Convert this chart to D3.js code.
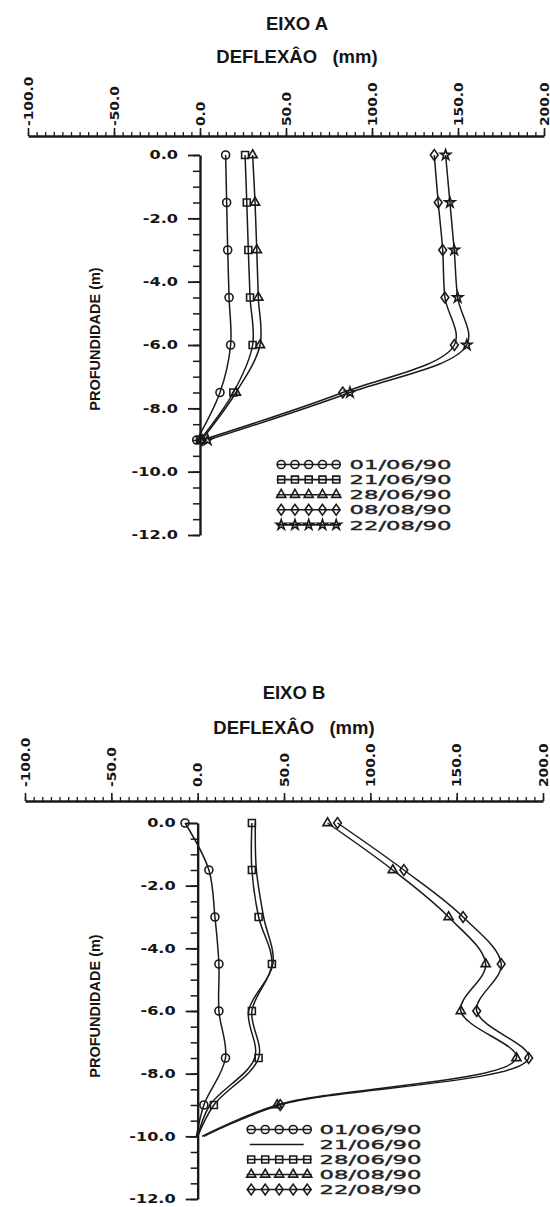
<!DOCTYPE html>
<html>
<head>
<meta charset="utf-8">
<script src="https://cdnjs.cloudflare.com/ajax/libs/d3/7.8.5/d3.min.js"></script>
<style>
  body { margin: 0; background: #fff; }
  svg { display: block; }
  .tick-lbl { font-family: "DejaVu Sans", sans-serif; font-weight: bold; font-size: 11.5px; fill: #151515; }
  .title { font-family: "Liberation Sans", Arial, sans-serif; font-weight: bold; font-size: 18.5px; fill: #151515; white-space: pre; }
  .ytitle { font-family: "Liberation Sans", Arial, sans-serif; font-weight: bold; font-size: 14.5px; fill: #151515; }
  .leg { font-family: "DejaVu Sans", sans-serif; font-size: 12.5px; fill: #222; stroke: #222; stroke-width: 0.35px; }
</style>
</head>
<body>
<svg id="chart" width="550" height="1207"></svg>
<script>
// depths of the readings (m)
var depthsA = [0, -1.5, -3, -4.5, -6, -7.5, -9];
var depthsB = [0, -1.5, -3, -4.5, -6, -7.5, -9, -10];

// EIXO A - deflexao (mm)
var datesA = ["01/06/90", "21/06/90", "28/06/90", "08/08/90", "22/08/90"];
var markersA = ["circle", "square", "triangle", "diamond", "star"];
var defA_0106 = [14.9, 15.5, 16.1, 16.9, 17.8, 11.6, -1.9];
var defA_2106 = [26.2, 27.2, 28.1, 29.1, 30.6, 19.4, 0.0];
var defA_2806 = [30.6, 32.0, 33.0, 33.9, 34.9, 20.9, 0.9];
var defA_0808 = [136.2, 138.5, 141.1, 142.4, 147.9, 83.0, 1.2];
var defA_2208 = [142.8, 145.3, 147.8, 149.8, 155.1, 87.2, 4.5];

// EIXO B - deflexao (mm), last point (-10 m) has no marker
var datesB = ["01/06/90", "21/06/90", "28/06/90", "08/08/90", "22/08/90"];
var markersB = ["circle", "none", "square", "triangle", "diamond"];
var defB_0106 = [-7.3, 6.5, 10.0, 12.3, 12.3, 16.1, 3.6, -0.7];
var defB_2106 = [33.4, 34.0, 38.2, 43.6, 29.5, 33.0, 7.1, 0.0];
var defB_2806 = [31.4, 31.4, 35.3, 43.0, 31.4, 35.3, 9.4, 0.0];
var defB_0808 = [75.2, 113.0, 145.3, 166.8, 152.4, 184.6, 46.0, 2.5];
var defB_2208 = [81.0, 119.4, 153.7, 175.8, 161.6, 191.7, 47.8, 3.6];

var xTicks = [-100, -50, 0, 50, 100, 150, 200];
var yTicks = [0, -2, -4, -6, -8, -10, -12];

var ink = "#1a1a1a";
var svg = d3.select("#chart");

// taller-than-wide diamond like the plotter glyph
var tallDiamond = {
  draw: function(ctx, size) {
    var h = Math.sqrt(size) * 0.78, w = h * 0.72;
    ctx.moveTo(0, -h); ctx.lineTo(w, 0); ctx.lineTo(0, h); ctx.lineTo(-w, 0); ctx.closePath();
  }
};
var symbolTypes = {
  circle: [d3.symbolCircle, 50],
  square: [d3.symbolSquare, 48],
  triangle: [d3.symbolTriangle, 36],
  diamond: [tallDiamond, 48],
  star: [d3.symbolStar, 32]
};

function drawMarker(g, type, px, py) {
  if (type === "none") return;
  var t = symbolTypes[type];
  g.append("path")
    .attr("d", d3.symbol().type(t[0]).size(t[1])())
    .attr("transform", "translate(" + px + "," + py + ")")
    .attr("fill", "none")
    .attr("stroke", ink)
    .attr("stroke-width", 1.6);
}

function drawChart(c) {
  var x = d3.scaleLinear().domain([-100, 200]).range(c.xRange),
      y = d3.scaleLinear().domain([0, -12]).range(c.yRange),
      g = svg.append("g");

  // titles
  g.append("text").attr("class", "title")
    .attr("x", c.titleX).attr("y", c.titleY).attr("text-anchor", "middle")
    .text(c.title);
  g.append("text").attr("class", "title")
    .attr("x", c.titleX).attr("y", c.subY).attr("text-anchor", "middle")
    .text("DEFLEXÂO   (mm)");

  // top x axis: minor ticks every 5 mm
  var xMinor = g.append("g")
    .attr("transform", "translate(0," + c.axisY + ")")
    .call(d3.axisTop(x).tickValues(d3.range(-100, 201, 5)).tickSize(4).tickSizeOuter(0).tickFormat(""));
  xMinor.select(".domain").attr("stroke-width", 2.4).attr("stroke", ink);
  xMinor.selectAll(".tick line").attr("stroke", ink).attr("stroke-width", 1.3);

  var xMajor = g.append("g")
    .attr("transform", "translate(0," + c.axisY + ")")
    .call(d3.axisTop(x).tickValues(xTicks).tickSize(8).tickSizeOuter(0)
      .tickFormat(function(d) { return d.toFixed(1); }));
  xMajor.select(".domain").remove();
  xMajor.selectAll(".tick line").attr("stroke", ink).attr("stroke-width", 1.6);
  xMajor.selectAll(".tick text")
    .attr("class", "tick-lbl")
    .attr("x", 0).attr("y", 0).attr("dy", "0.36em")
    .attr("text-anchor", "start")
    .attr("transform", "translate(0," + (-c.xLabelGap) + ") rotate(-90) scale(1.2,1)");

  // left depth axis at zero deflection
  var yMinor = g.append("g")
    .attr("transform", "translate(" + x(0) + ",0)")
    .call(d3.axisLeft(y).tickValues(d3.range(0, -12.01, -0.5)).tickSize(7).tickSizeOuter(0).tickFormat(""));
  yMinor.select(".domain").attr("stroke-width", 2.4).attr("stroke", ink);
  yMinor.selectAll(".tick line").attr("stroke", ink).attr("stroke-width", 1.5);

  var yMajor = g.append("g")
    .attr("transform", "translate(" + x(0) + ",0)")
    .call(d3.axisLeft(y).tickValues(yTicks).tickSize(12).tickSizeOuter(0)
      .tickFormat(function(d) { return d.toFixed(1); }));
  yMajor.select(".domain").remove();
  yMajor.selectAll(".tick line").attr("stroke", ink).attr("stroke-width", 1.8);
  yMajor.selectAll(".tick text")
    .attr("class", "tick-lbl")
    .attr("x", 0)
    .attr("transform", "translate(-22,0) scale(1.4,1)");

  g.append("text").attr("class", "ytitle")
    .attr("transform", "translate(95," + c.yTitleY + ") rotate(-90)")
    .attr("text-anchor", "middle").attr("dy", "0.36em")
    .text("PROFUNDIDADE (m)");

  // series
  var line = d3.line()
    .x(function(d) { return x(d.v); })
    .y(function(d) { return y(d.d); })
    .curve(d3.curveCatmullRom.alpha(0.5));

  c.series.forEach(function(s, i) {
    var pts = s.values.map(function(v, k) { return { v: v, d: c.depths[k] }; });
    g.append("path")
      .datum(pts)
      .attr("d", line)
      .attr("fill", "none")
      .attr("stroke", ink)
      .attr("stroke-width", 1.5);
    var n = c.markLast ? pts.length : pts.length - 1;
    pts.slice(0, n).forEach(function(p) {
      drawMarker(g, s.marker, x(p.v), y(p.d));
    });

    // legend row
    var ly = c.legY + i * c.legStep;
    var x0 = c.legX, x1 = c.legX + c.legW;
    if (s.marker === "none") { x0 += 3; x1 -= 8; }
    g.append("line")
      .attr("x1", x0).attr("x2", x1).attr("y1", ly).attr("y2", ly)
      .attr("stroke", ink).attr("stroke-width", 1.6);
    for (var k = 0; k < 5; k++) {
      drawMarker(g, s.marker, c.legX + 4.5 + k * (c.legW - 9) / 4, ly);
    }
    g.append("text").attr("class", "leg")
      .attr("x", c.legTextX).attr("y", ly + 4.6)
      .attr("textLength", 102).attr("lengthAdjust", "spacingAndGlyphs")
      .text(s.label);
  });
}

drawChart({
  title: "EIXO A", titleX: 297, titleY: 30, subY: 63,
  xRange: [28, 544], axisY: 136, xLabelGap: 10,
  yRange: [155, 535], yTitleY: 339,
  depths: depthsA, markLast: true,
  series: [defA_0106, defA_2106, defA_2806, defA_0808, defA_2208].map(function(v, i) {
    return { values: v, label: datesA[i], marker: markersA[i] };
  }),
  legX: 276.7, legW: 64, legY: 464.5, legStep: 15.1, legTextX: 349.5
});

drawChart({
  title: "EIXO B", titleX: 294, titleY: 699, subY: 734,
  xRange: [25, 543], axisY: 801, xLabelGap: 14,
  yRange: [823, 1199], yTitleY: 1006,
  depths: depthsB, markLast: false,
  series: [defB_0106, defB_2106, defB_2806, defB_0808, defB_2208].map(function(v, i) {
    return { values: v, label: datesB[i], marker: markersB[i] };
  }),
  legX: 246.7, legW: 65, legY: 1129.5, legStep: 15, legTextX: 319.5
});
</script>
</body>
</html>
